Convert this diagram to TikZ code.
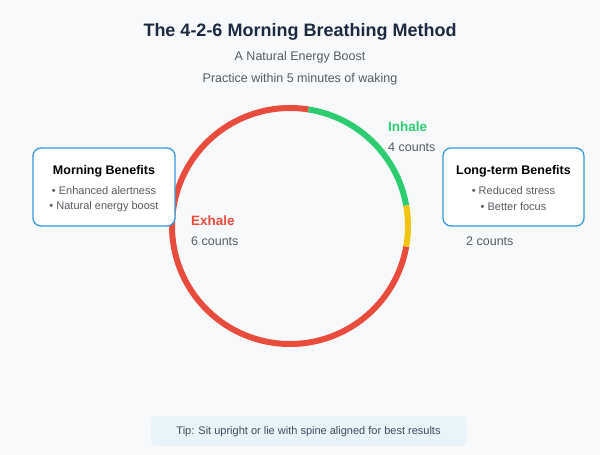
\documentclass[tikz,border=0pt]{standalone}
\usepackage{fontspec}
\setmainfont{Liberation Sans}
\definecolor{bg}{HTML}{F8F9FB}
\definecolor{titlec}{HTML}{1B2A41}
\definecolor{grayt}{HTML}{555B61}
\definecolor{greenc}{HTML}{2ECC71}
\definecolor{yellowc}{HTML}{F1C40F}
\definecolor{redc}{HTML}{E74C3C}
\definecolor{bluec}{HTML}{3498DB}
\definecolor{tipbg}{HTML}{E8F4FA}
\begin{document}
\begin{tikzpicture}[x=1pt,y=-1pt,
  txt/.style={inner sep=0pt, anchor=center},
  sub/.style={txt, text=grayt, font=\fontsize{12.5}{15}\selectfont},
  boxhead/.style={txt, text=black, font=\bfseries\fontsize{12.5}{15}\selectfont},
  bullet/.style={txt, text=grayt, font=\fontsize{11}{13}\selectfont},
  benefit/.style={draw=bluec, line width=1.3pt, fill=white, rounded corners=8pt},
  arcseg/.style={line width=6pt},
  lbl/.style={inner sep=0pt, anchor=west}]
\fill[bg] (0,0) rectangle (600,455);
\useasboundingbox (0,0) rectangle (600,455);
% title
\node[txt, text=titlec, font=\bfseries\fontsize{18}{21}\selectfont] (title) at (300,32) {The 4-2-6 Morning Breathing Method};
\node[sub] (subtitle) at (300,57) {A Natural Energy Boost};
\node[sub] (practice) at (300,79) {Practice within 5 minutes of waking};
% circle (y axis points down, so angles are mirrored)
\coordinate (c) at (290,226);
\draw[arcseg, redc] ([shift={(10:118)}]c) arc[start angle=10, end angle=279, radius=118];
\draw[arcseg, greenc] ([shift={(-81:118)}]c) arc[start angle=-81, end angle=-10, radius=118];
\draw[arcseg, yellowc] ([shift={(-10:118)}]c) arc[start angle=-10, end angle=10, radius=118];
% labels
\node[lbl, text=greenc, font=\bfseries\fontsize{13.5}{16}\selectfont] (inhale) at (388,127) {Inhale};
\node[lbl, text=grayt, font=\fontsize{12.5}{15}\selectfont] (inc) at (388,147) {4 counts};
\node[lbl, text=redc, font=\bfseries\fontsize{13.5}{16}\selectfont] (exhale) at (191,221) {Exhale};
\node[lbl, text=grayt, font=\fontsize{12.5}{15}\selectfont] (exc) at (191,241) {6 counts};
\node[lbl, text=grayt, font=\fontsize{12.5}{15}\selectfont] (holdc) at (466,241) {2 counts};
% left box
\draw[benefit] (33,148) rectangle (175,226);
\node[boxhead] (mb) at (104,171) {Morning Benefits};
\node[bullet] (mb1) at (104,191) {• Enhanced alertness};
\node[bullet] (mb2) at (104,207) {• Natural energy boost};
% right box
\draw[benefit] (443,148) rectangle (584,226);
\node[boxhead] (lb) at (513.5,171) {Long-term Benefits};
\node[bullet] (lb1) at (513.5,191) {• Reduced stress};
\node[bullet] (lb2) at (513.5,207) {• Better focus};
% tip
\fill[tipbg, rounded corners=4pt] (151,416) rectangle (466,446);
\node[txt, text=titlec!85!white, font=\fontsize{11}{13}\selectfont] (tip) at (308.5,432) {Tip: Sit upright or lie with spine aligned for best results};
\end{tikzpicture}
\end{document}
